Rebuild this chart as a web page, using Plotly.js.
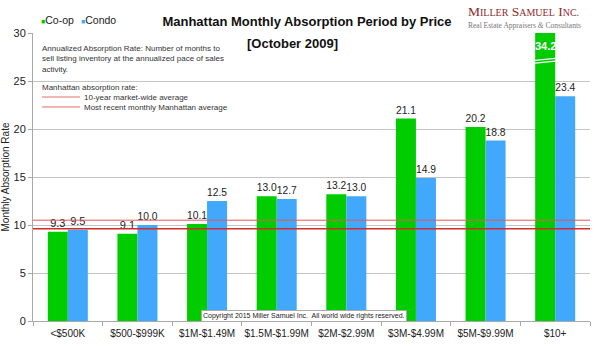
<!DOCTYPE html>
<html><head><meta charset="utf-8">
<script src="https://cdn.plot.ly/plotly-3.0.1.min.js"></script>
<style>html,body{margin:0;padding:0;background:#fff}#chart{width:600px;height:349px}</style>
</head><body><div id="chart"></div>
<script>
const categories = ['<$500K','$500-$999K','$1M-$1.49M','$1.5M-$1.99M','$2M-$2.99M','$3M-$4.99M','$5M-$9.99M','$10+'];
const coop = [9.3, 9.1, 10.1, 13.0, 13.2, 21.1, 20.2, 34.2];
const condo = [9.5, 10.0, 12.5, 12.7, 13.0, 14.9, 18.8, 23.4];
const tenYearAvg = 10.5;
const recentAvg = 9.6;
const yMax = 30;
const yTicks = [0, 5, 10, 15, 20, 25, 30];

const FONT = 'Arial, "Liberation Sans", sans-serif';
const SERIF = '"Liberation Serif", "DejaVu Serif", serif';
const GREEN = '#00cc00', BLUE = '#42a8fb';
const L = 33, R = 590, T = 33, B = 321;
const px = x => (x - L) / (R - L);
const py = y => (B - y) / (B - T);

const fmt = v => v.toFixed(1);
const coopText = coop.map(v => v > yMax ? '' : fmt(v));
const condoText = condo.map(v => v > yMax ? '' : fmt(v));

const bargap = 0.425;
const barW = (1 - bargap) / 2;

const traces = [
  {type:'bar', name:'Co-op', x:categories, y:coop, marker:{color:GREEN},
   text:coopText, textposition:'outside', textfont:{family:FONT,size:11,color:'#222'}, cliponaxis:true},
  {type:'bar', name:'Condo', x:categories, y:condo, marker:{color:BLUE},
   text:condoText, textposition:'outside', textfont:{family:FONT,size:11,color:'#222'}, cliponaxis:true}
];

const annotations = [];
const shapes = [];

coop.forEach((v, i) => {
  if (v > yMax) {
    annotations.push({x:categories[i], y:yMax - 1.35, xref:'x', yref:'y', xshift:-10, text:'<b>'+fmt(v)+'</b>',
      showarrow:false, font:{family:FONT,size:11,color:'#fff'}});
    shapes.push({type:'line', xref:'x', yref:'y', x0:i - barW, x1:i, y0:yMax-2.85, y1:yMax-2.65, line:{color:'#fff',width:1.3}, layer:'above'});
    shapes.push({type:'line', xref:'x', yref:'y', x0:i - barW, x1:i, y0:yMax-3.13, y1:yMax-2.93, line:{color:'#fff',width:1.3}, layer:'above'});
  }
});

shapes.push({type:'line', xref:'paper', yref:'y', x0:0, x1:1, y0:tenYearAvg, y1:tenYearAvg, line:{color:'#e45858',width:1}, layer:'above'});
shapes.push({type:'line', xref:'paper', yref:'y', x0:0, x1:1, y0:recentAvg, y1:recentAvg, line:{color:'#d42a2a',width:1.5}, layer:'above'});

annotations.push({xref:'paper', yref:'paper', x:px(39), y:py(20), xanchor:'left', yanchor:'middle', showarrow:false,
  text:'<span style="color:'+GREEN+';font-size:7px">■</span>Co-op', font:{family:FONT,size:10.5,color:'#222'}});
annotations.push({xref:'paper', yref:'paper', x:px(79), y:py(20), xanchor:'left', yanchor:'middle', showarrow:false,
  text:'<span style="color:'+BLUE+';font-size:7px">■</span>Condo', font:{family:FONT,size:10.5,color:'#222'}});

annotations.push({xref:'paper', yref:'paper', x:px(292.5), y:py(44), xanchor:'center', yanchor:'middle', showarrow:false,
  text:'<b>[October 2009]</b>', font:{family:FONT,size:13,color:'#111'}});

annotations.push({xref:'paper', yref:'paper', x:px(40), y:py(59), xanchor:'left', yanchor:'middle', align:'left', showarrow:false,
  text:'Annualized Absorption Rate: Number of months to<br>sell listing inventory at the annualized pace of sales<br>activity.',
  font:{family:FONT,size:8,color:'#333'}});
annotations.push({xref:'paper', yref:'paper', x:px(40), y:py(87), xanchor:'left', yanchor:'middle', showarrow:false,
  text:'Manhattan absorption rate:', font:{family:FONT,size:8,color:'#333'}});
annotations.push({xref:'paper', yref:'paper', x:px(82), y:py(97), xanchor:'left', yanchor:'middle', showarrow:false,
  text:'10-year market-wide average', font:{family:FONT,size:8,color:'#333'}});
annotations.push({xref:'paper', yref:'paper', x:px(82), y:py(107), xanchor:'left', yanchor:'middle', showarrow:false,
  text:'Most recent monthly Manhattan average', font:{family:FONT,size:8,color:'#333'}});
shapes.push({type:'line', xref:'paper', yref:'paper', x0:px(42), x1:px(80), y0:py(97), y1:py(97), line:{color:'#e86a6a',width:1}});
shapes.push({type:'line', xref:'paper', yref:'paper', x0:px(42), x1:px(80), y0:py(107), y1:py(107), line:{color:'#e86a6a',width:1}});

annotations.push({xref:'paper', yref:'paper', x:px(466), y:py(12), xanchor:'left', yanchor:'middle', showarrow:false,
  text:'M<span style="font-size:10px">ILLER</span> S<span style="font-size:10px">AMUEL</span> I<span style="font-size:10px">NC.</span>',
  font:{family:SERIF,size:13.5,color:'#8a2c2c'}});
annotations.push({xref:'paper', yref:'paper', x:px(466), y:py(25), xanchor:'left', yanchor:'middle', showarrow:false,
  text:'Real Estate Appraisers <i>&amp;</i> Consultants', font:{family:SERIF,size:7.5,color:'#777'}});

annotations.push({xref:'paper', yref:'paper', x:px(304), y:py(315.5), xanchor:'center', yanchor:'middle', showarrow:false,
  text:'Copyright 2015 Miller Samuel Inc.  All world wide rights reserved.', font:{family:FONT,size:7,color:'#222'},
  bgcolor:'#fff', bordercolor:'#aaa', borderwidth:1, borderpad:1});

const layout = {
  width:600, height:349,
  margin:{l:L, r:600-R, t:T, b:349-B},
  paper_bgcolor:'#fff', plot_bgcolor:'#fff',
  font:{family:FONT, color:'#222'},
  showlegend:false,
  barmode:'group', bargap:bargap, bargroupgap:0,
  title:{text:'<b>Manhattan Monthly Absorption Period by Price</b>', font:{family:FONT,size:13,color:'#111'},
    xref:'paper', x:px(307), xanchor:'center', yref:'container', y:1 - 21/349, yanchor:'middle'},
  xaxis:{type:'category', showline:true, linecolor:'#a8a8a8', linewidth:1, ticks:'outside', tickson:'boundaries',
    ticklen:4, tickcolor:'#a8a8a8', tickangle:0, ticklabelstandoff:3, tickfont:{family:FONT,size:10,color:'#222'}, showgrid:false, zeroline:false, fixedrange:true},
  yaxis:{range:[0,yMax], tickvals:yTicks, ticktext:yTicks.map(String), showline:true, linecolor:'#a8a8a8', linewidth:1,
    ticks:'outside', ticklen:4, tickcolor:'#a8a8a8', showgrid:true, gridcolor:'#c4c4c4', gridwidth:1, zeroline:false,
    tickfont:{family:FONT,size:11,color:'#222'},
    title:{text:'Monthly Absorption Rate', font:{family:FONT,size:10,color:'#222'}, standoff:3}},
  annotations:annotations,
  shapes:shapes
};

Plotly.newPlot('chart', traces, layout, {displayModeBar:false, staticPlot:true});
</script></body></html>
